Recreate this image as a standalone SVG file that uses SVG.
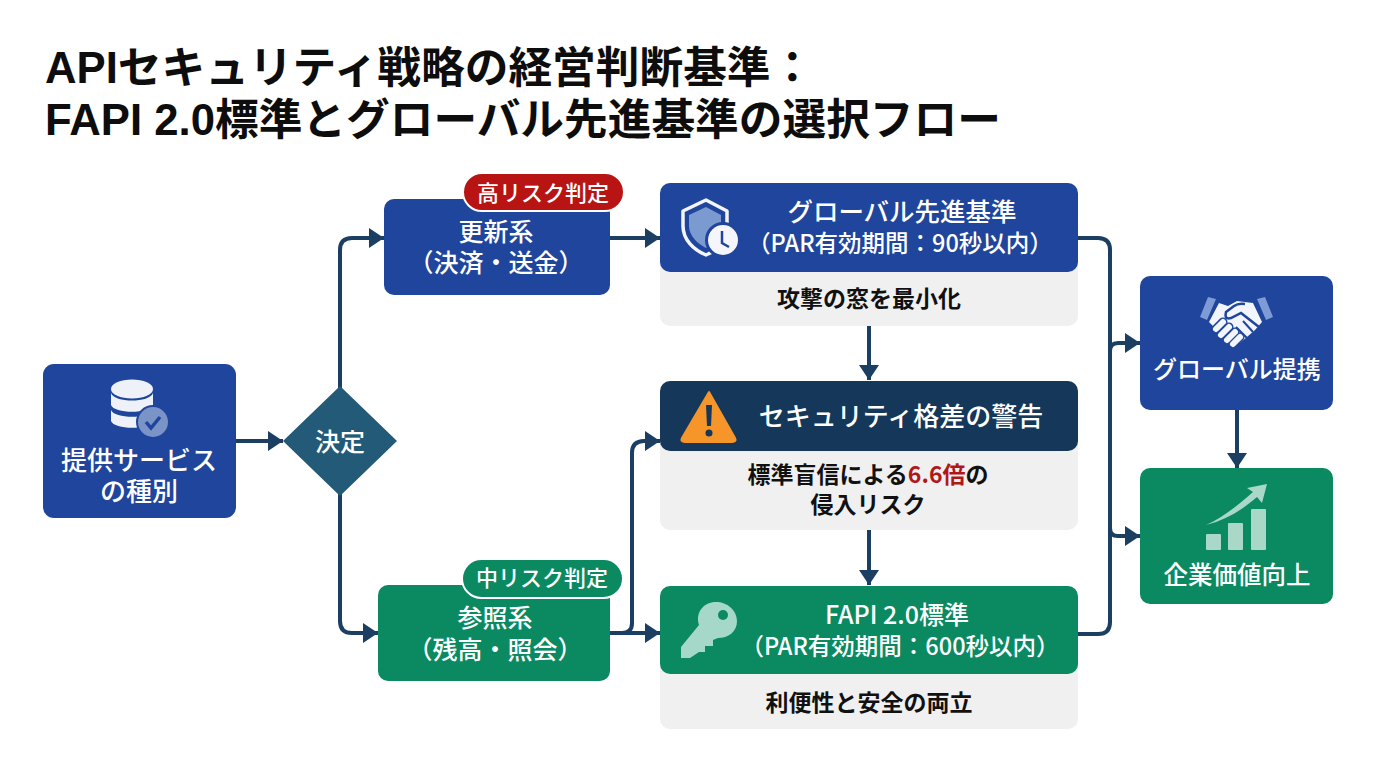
<svg xmlns="http://www.w3.org/2000/svg" width="1376" height="768" viewBox="0 0 1376 768">
<style>
text{font-family:"Noto Sans CJK JP","Noto Sans",sans-serif;text-anchor:middle}
.title{font-family:"Liberation Sans","Noto Sans CJK JP",sans-serif;font-size:43.7px;font-weight:700;fill:#0d0d0d;text-anchor:start}
.w{fill:#fff;font-weight:500}
.d{fill:#111;font-weight:700;font-size:23px}
.blue{fill:#1f459c}.green{fill:#0b8a62}.navy{fill:#14375a}.panel{fill:#f0f0f1}
.conn{fill:none;stroke:#1a3f63;stroke-width:4;stroke-linejoin:round}
.arrow{marker-end:url(#ah)}
.fg{fill:none;stroke:#f2f5fb;stroke-width:6;stroke-linecap:round}
.fb{fill:none;stroke:#1f459c;stroke-width:9;stroke-linecap:round}
</style>
<defs>
<marker id="ah" markerUnits="userSpaceOnUse" markerWidth="16" markerHeight="20" refX="15" refY="10" orient="auto"><path d="M0 0L15 10L0 20Z" fill="#1a3f63"/></marker>
</defs>
<g id="title">
<text class="title" x="45" y="83">APIセキュリティ戦略の経営判断基準：<tspan x="45" y="135">FAPI 2.0標準とグローバル先進基準の選択フロー</tspan></text>
</g>
<g id="connectors">
<path class="conn arrow" d="M236 441H283"/>
<path class="conn arrow" d="M340 390V250Q340 238 352 238H384"/>
<path class="conn arrow" d="M340 492V621Q340 633 352 633H378"/>
<path class="conn arrow" d="M610 238H660"/>
<path class="conn arrow" d="M610 633H660"/>
<path class="conn arrow" d="M610 633H622Q632 633 632 623V453Q632 441 644 441H660"/>
<path class="conn arrow" d="M869 326V380"/>
<path class="conn arrow" d="M869 530V585"/>
<path class="conn" d="M1078 238H1098Q1110 238 1110 250V622Q1110 634 1098 634H1078"/>
<path class="conn arrow" d="M1110 351Q1110 343 1118 343H1140"/>
<path class="conn arrow" d="M1110 528Q1110 536 1118 536H1140"/>
<path class="conn arrow" d="M1237 410V468"/>
</g>
<g id="node-source">
<rect class="blue" x="43" y="364" width="193" height="154" rx="11"/>
<g fill="#eef2f8">
<ellipse cx="132" cy="389" rx="21" ry="9.5"/>
<path d="M111 393C114 403 150 403 153 393V405C150 414 114 414 111 405Z"/>
<path d="M111 410C114 419 150 419 153 410V421C150 430 114 430 111 421Z"/>
</g>
<circle cx="153" cy="422" r="17" fill="#1f459c"/>
<circle cx="153" cy="422" r="15" fill="#7b94c8"/>
<path d="M146 422L151 428L160 417" fill="none" stroke="#1f459c" stroke-width="3.5"/>
<text class="w" x="139" font-size="26"><tspan x="139" y="470">提供サービス</tspan><tspan x="139" y="501">の種別</tspan></text>
</g>
<g id="node-decision">
<path d="M340 386L397 441L340 496L283 441Z" fill="#235a78"/>
<text class="w" x="340" y="451" font-size="25">決定</text>
</g>
<g id="node-update">
<rect class="blue" x="384" y="199" width="226" height="96" rx="10"/>
<text class="w" x="496" font-size="25"><tspan x="496" y="241">更新系</tspan><tspan x="496" y="272">（決済・送金）</tspan></text>
<rect x="463" y="173" width="161" height="38" rx="19" fill="#b81414" stroke="#fff" stroke-width="2"/>
<text class="w" x="543" y="201" font-size="22">高リスク判定</text>
</g>
<g id="node-reference">
<rect class="green" x="378" y="585" width="232" height="96" rx="10"/>
<text class="w" x="495" font-size="25"><tspan x="495" y="627">参照系</tspan><tspan x="495" y="659">（残高・照会）</tspan></text>
<rect class="green" x="462" y="559" width="161" height="39" rx="19.5" stroke="#fff" stroke-width="2"/>
<text class="w" x="542" y="586" font-size="22">中リスク判定</text>
</g>
<g id="node-global-standard">
<rect class="panel" x="660" y="250" width="418" height="76" rx="10"/>
<rect class="blue" x="660" y="183" width="418" height="89" rx="10"/>
<path d="M706 200L727 211V226C727 240 718 250 706 255C694 250 683 240 683 226V211Z" fill="none" stroke="#f2f5fb" stroke-width="3.5" stroke-linejoin="round"/>
<path d="M706 207L721 215V226C721 236 714 244 706 248C698 244 689 236 689 226V215Z" fill="#7b9ad0"/>
<circle cx="723" cy="240" r="18" fill="#1f459c"/>
<circle cx="723" cy="240" r="15" fill="#f4f6fb"/>
<path d="M722 231V243L729 247" fill="none" stroke="#1f459c" stroke-width="2.5"/>
<text class="w" x="902" y="221" font-size="25.5">グローバル先進基準</text>
<text class="w" x="900" y="252" font-size="23.5">（PAR有効期間：90秒以内）</text>
<text class="d" x="869" y="307">攻撃の窓を最小化</text>
</g>
<g id="node-warning">
<rect class="panel" x="660" y="430" width="418" height="100" rx="10"/>
<rect class="navy" x="660" y="381" width="418" height="70" rx="10"/>
<path d="M709 392L735 438Q737 442 732 442H685Q680 442 682 438Z" fill="#f5952a" stroke="#f5952a" stroke-width="2" stroke-linejoin="round"/>
<path d="M706 405H712L711 426H707Z" fill="#14375a"/>
<circle cx="709" cy="433" r="3.5" fill="#14375a"/>
<text class="w" x="901" y="426" font-size="26">セキュリティ格差の警告</text>
<text class="d" x="868" y="483" font-size="23.5">標準盲信による<tspan fill="#b01818">6.6倍</tspan>の<tspan x="868" y="513" font-size="23">侵入リスク</tspan></text>
</g>
<g id="node-fapi">
<rect class="panel" x="660" y="650" width="418" height="79" rx="10"/>
<rect class="green" x="660" y="586" width="418" height="88" rx="10"/>
<path d="M716 602C727 602 737 610 737 621C737 632 728 638 718 638L713 640V646H705V652H699L690 658H681V647L699 625C695 612 704 602 716 602Z" fill="#a5d8c8"/>
<circle cx="723" cy="615" r="5" fill="#0b8a62"/>
<text class="w" x="897" y="624" font-size="25">FAPI 2.0標準</text>
<text class="w" x="900" y="655" font-size="23.5">（PAR有効期間：600秒以内）</text>
<text class="d" x="869" y="711">利便性と安全の両立</text>
</g>
<g id="node-partner">
<rect class="blue" x="1140" y="276" width="193" height="134" rx="10"/>
<path d="M1208 297L1216 299L1207 320L1200 317Z M1265 297L1257 299L1266 320L1273 317Z" fill="#7f9bd6"/>
<path d="M1219 303L1228 306L1237 301L1253 303L1262 322L1255 330L1240 343L1232 342L1222 335L1209 322Z" fill="#f2f5fb"/>
<path d="M1259 327L1241 313L1231 318Q1224 320 1226 312L1234 306Q1238 303 1245 304" fill="none" stroke="#1f459c" stroke-width="2.5"/>
<path d="M1243 321L1253 332M1236 327L1247 338" fill="none" stroke="#1f459c" stroke-width="2"/>
<path class="fb" d="M1216 329L1223 322M1221 335L1229 327M1227 340L1235 332M1233 344L1240 337"/>
<path class="fg" d="M1216 329L1223 322M1221 335L1229 327M1227 340L1235 332M1233 344L1240 337"/>
<text class="w" x="1237" y="378" font-size="24">グローバル提携</text>
</g>
<g id="node-value">
<rect class="green" x="1140" y="468" width="193" height="136" rx="10"/>
<g fill="#a9d8c8">
<rect x="1206" y="534" width="15" height="16" rx="1"/>
<rect x="1228" y="523" width="15" height="27" rx="1"/>
<rect x="1251" y="509" width="15" height="41" rx="1"/>
<path d="M1206 525C1226 516 1240 503 1253 492L1247 488L1267 484L1262 503L1257 497C1242 510 1226 520 1206 525Z"/>
</g>
<text class="w" x="1237" y="584" font-size="24.5">企業価値向上</text>
</g>
</svg>
